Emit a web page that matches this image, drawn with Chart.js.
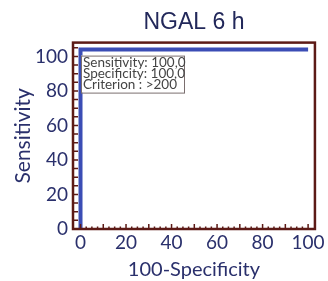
<!DOCTYPE html>
<html>
<head>
<meta charset="utf-8">
<style>
  html, body { margin: 0; padding: 0; background: #fff; }
  #wrap { width: 328px; height: 281px; }
</style>
<script src="https://cdn.jsdelivr.net/npm/chart.js@4/dist/chart.umd.min.js"></script>
</head>
<body>
<div id="wrap"><canvas id="roc"></canvas></div>
<script>
const rocX = [0, 0, 100];
const rocY = [0, 104, 104];
const xTickValues = [0, 20, 40, 60, 80, 100];
const yTickValues = [0, 20, 40, 60, 80, 100];
const infoLines = ['Sensitivity: 100,0', 'Specificity: 100,0', 'Criterion : >200'];

const frameColor = '#5c1a16';
const lineColor = '#3b4db5';
const textColor = '#2a306c';

const frameTicks = {
  id: 'frameTicks',
  afterDraw(chart) {
    const { ctx, chartArea, scales } = chart;
    const { left, right, top, bottom } = chartArea;
    ctx.save();
    ctx.strokeStyle = frameColor;
    ctx.lineWidth = 1.5;
    ctx.beginPath();
    for (let v = 0; v <= 105; v += 5) {
      const y = scales.y.getPixelForValue(v);
      ctx.moveTo(left, y);
      ctx.lineTo(left + 5, y);
    }
    for (let v = 0; v <= 100; v += 2.5) {
      const x = scales.x.getPixelForValue(v);
      const len = v % 10 === 0 ? 5 : 2.5;
      ctx.moveTo(x, bottom);
      ctx.lineTo(x, bottom - len);
    }
    ctx.stroke();
    ctx.lineWidth = 2.5;
    ctx.strokeRect(left, top, right - left, bottom - top);

    // info box
    const bx = left + 8;
    const by = top + 13;
    ctx.fillStyle = '#fff';
    ctx.fillRect(bx, by, 103, 37);
    ctx.strokeStyle = '#7a6e6e';
    ctx.lineWidth = 1;
    ctx.strokeRect(bx + 0.5, by + 0.5, 103, 37);
    ctx.fillStyle = '#444';
    ctx.font = '13.5px Lato';
    ctx.textBaseline = 'alphabetic';
    infoLines.forEach((line, i) => {
      ctx.fillText(line, bx + 2, by + 11 + i * 11);
    });
    ctx.restore();
  },
};

new Chart(document.getElementById('roc'), {
  type: 'scatter',
  data: {
    datasets: [{
      data: rocX.map((x, i) => ({ x, y: rocY[i] })),
      showLine: true,
      borderColor: lineColor,
      backgroundColor: lineColor,
      borderWidth: 4,
      pointRadius: 0,
      tension: 0,
    }],
  },
  options: {
    responsive: true,
    maintainAspectRatio: false,
    animation: false,
    layout: { padding: { left: 0, right: 13, top: 0, bottom: 0 } },
    plugins: {
      legend: { display: false },
      tooltip: { enabled: false },
      title: {
        display: true,
        text: 'NGAL 6 h',
        color: '#22285a',
        fullSize: false,
        font: { family: '"Liberation Sans", Arial, sans-serif', size: 23, weight: 'normal', lineHeight: 1.2 },
        padding: { top: 9, bottom: 6 },
      },
    },
    scales: {
      x: {
        type: 'linear',
        min: -3.3,
        max: 103,
        afterBuildTicks(scale) { scale.ticks = xTickValues.map((value) => ({ value })); },
        afterFit(scale) { scale.height = 52; },
        grid: { display: false, drawTicks: false },
        border: { display: false },
        ticks: {
          color: textColor,
          padding: 3,
          maxRotation: 0,
          font: { family: 'Lato', size: 19, lineHeight: 1.1 },
        },
        title: {
          display: true,
          text: '100-Specificity',
          color: textColor,
          font: { family: 'Lato', size: 20, lineHeight: 1.05 },
          padding: { top: 0, bottom: 0.5 },
        },
      },
      y: {
        type: 'linear',
        min: 0,
        max: 108,
        afterBuildTicks(scale) { scale.ticks = yTickValues.map((value) => ({ value })); },
        afterFit(scale) { scale.width = 73; },
        grid: { display: false, drawTicks: false },
        border: { display: false },
        ticks: {
          color: textColor,
          padding: 5,
          font: { family: 'Lato', size: 19, lineHeight: 1.1 },
        },
        title: {
          display: true,
          text: 'Sensitivity',
          color: textColor,
          font: { family: 'Lato', size: 21, lineHeight: 1.1 },
          padding: { top: 12, bottom: 0 },
        },
      },
    },
  },
  plugins: [frameTicks],
});
</script>
</body>
</html>
